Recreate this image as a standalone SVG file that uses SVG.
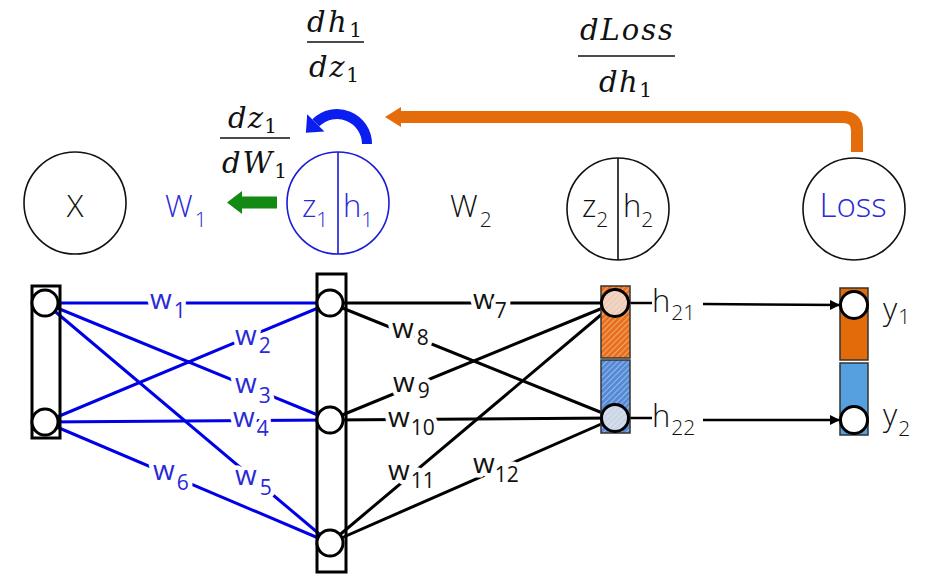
<svg xmlns="http://www.w3.org/2000/svg" width="949" height="584" viewBox="0 0 949 584">
<style>
.sans{font-family:"Open Sans","Noto Sans","Liberation Sans",sans-serif;font-weight:300;}
.math{font-family:"DejaVu Serif","Liberation Serif",serif;font-style:italic;font-size:29px;fill:#111;}
.msub{font-style:normal;font-size:20px;}
.big{font-size:31px;}
.sub{font-size:21px;}
.wl{font-size:28px;font-weight:400;stroke:#fff;stroke-width:9;stroke-linejoin:round;paint-order:stroke;}
.blue{fill:#2a2ad6;}
.blk{fill:#111;}
.node{fill:#fff;stroke:#111;stroke-width:1.6;}
.unit{fill:#fff;stroke:#000;stroke-width:3;}
.layer{fill:none;stroke:#000;stroke-width:3;}
.bl{stroke:#0000e6;stroke-width:3;fill:none;}
.kl{stroke:#000;stroke-width:3;fill:none;}
.fr{stroke:#111;stroke-width:1.5;}
</style>
<defs>
<pattern id="hatchO" width="4" height="4" patternUnits="userSpaceOnUse" patternTransform="rotate(45)">
<rect width="4" height="4" fill="#e8701a"/><line x1="0" y1="0" x2="0" y2="4" stroke="#fff" stroke-width="0.8"/>
</pattern>
<pattern id="hatchB" width="4" height="4" patternUnits="userSpaceOnUse" patternTransform="rotate(45)">
<rect width="4" height="4" fill="#548ad6"/><line x1="0" y1="0" x2="0" y2="4" stroke="#fff" stroke-width="0.8"/>
</pattern>
<pattern id="hatchO2" width="4" height="4" patternUnits="userSpaceOnUse" patternTransform="rotate(45)">
<rect width="4" height="4" fill="#efcdb8"/><line x1="0" y1="0" x2="0" y2="4" stroke="#fbeee6" stroke-width="1"/>
</pattern>
<pattern id="hatchB2" width="4" height="4" patternUnits="userSpaceOnUse" patternTransform="rotate(45)">
<rect width="4" height="4" fill="#cad5e6"/><line x1="0" y1="0" x2="0" y2="4" stroke="#eef2f8" stroke-width="1"/>
</pattern>
<marker id="ah" viewBox="0 0 10 10" refX="10" refY="5" markerWidth="4" markerHeight="4" orient="auto" markerUnits="strokeWidth">
<path d="M0,0 L10,5 L0,10 z" fill="#000"/>
</marker>
</defs>
<rect width="949" height="584" fill="#fff"/>

<!-- top row nodes -->
<g id="node-X">
<circle class="node" cx="75" cy="203" r="51"/>
<text class="sans big blk" x="75" y="217" text-anchor="middle">X</text>
</g>
<g id="label-W1">
<text class="sans big blue" x="165" y="217">W<tspan class="sub" dx="2" dy="10">1</tspan></text>
</g>
<g id="node-z1h1">
<circle cx="338" cy="203" r="51" fill="#fff" stroke="#1a1ad8" stroke-width="1.6"/>
<line x1="338" y1="152" x2="338" y2="254" stroke="#1a1ad8" stroke-width="1.6"/>
<text class="sans big blue" x="302" y="217">z<tspan class="sub" dy="10">1</tspan></text>
<text class="sans big blue" x="343" y="217">h<tspan class="sub" dy="10">1</tspan></text>
</g>
<g id="label-W2">
<text class="sans big blk" x="450" y="217">W<tspan class="sub" dx="2" dy="10">2</tspan></text>
</g>
<g id="node-z2h2">
<circle class="node" cx="618" cy="209" r="51"/>
<line x1="618" y1="158" x2="618" y2="260" stroke="#111" stroke-width="1.6"/>
<text class="sans big blk" x="582" y="217">z<tspan class="sub" dy="10">2</tspan></text>
<text class="sans big blk" x="623" y="217">h<tspan class="sub" dy="10">2</tspan></text>
</g>
<g id="node-Loss">
<circle class="node" cx="854" cy="209" r="51"/>
<text class="sans blue" x="853" y="217" font-size="33" text-anchor="middle">Loss</text>
</g>

<!-- gradient annotations -->
<g id="grad-dh1dz1">
<text class="math" x="307" y="32" textLength="55" lengthAdjust="spacing">dh<tspan class="msub" dy="5">1</tspan></text>
<line class="fr" x1="307" y1="42" x2="364" y2="42"/>
<text class="math" x="309" y="77" textLength="50" lengthAdjust="spacing">dz<tspan class="msub" dy="5">1</tspan></text>
</g>
<g id="grad-dz1dW1">
<text class="math" x="228" y="128" textLength="49" lengthAdjust="spacing">dz<tspan class="msub" dy="5">1</tspan></text>
<line class="fr" x1="220" y1="138" x2="290" y2="138"/>
<text class="math" x="222" y="173" textLength="65" lengthAdjust="spacing">dW<tspan class="msub" dy="5">1</tspan></text>
</g>
<g id="grad-dLossdh1">
<text class="math" x="580" y="40" textLength="93" lengthAdjust="spacing">dLoss</text>
<line class="fr" x1="578" y1="56" x2="675" y2="56"/>
<text class="math" x="599" y="92" textLength="53" lengthAdjust="spacing">dh<tspan class="msub" dy="5">1</tspan></text>
</g>

<!-- backprop arrows -->
<g id="backprop-arrows">
<path d="M857 152 L857 131 Q857 117 843 117 L398 117" fill="none" stroke="#e46c0a" stroke-width="12"/>
<polygon points="385,117 401,107 401,127" fill="#e46c0a"/>
<path d="M367 144 A30 30 0 0 0 315.8 122.8" fill="none" stroke="#0a1ef0" stroke-width="10"/>
<polygon points="324.4,131.4 307.2,114.2 305.9,132.7" fill="#0a1ef0"/>
<polygon points="277,196.5 242,196.5 242,191 227,202.5 242,214 242,208.5 277,208.5" fill="#138a13"/>
</g>

<!-- connectors -->
<g id="connectors">
<line class="bl" x1="45" y1="303" x2="330" y2="303"/>
<line class="bl" x1="45" y1="422" x2="330" y2="303"/>
<line class="bl" x1="45" y1="303" x2="330" y2="420"/>
<line class="bl" x1="45" y1="422" x2="330" y2="420"/>
<line class="bl" x1="45" y1="303" x2="330" y2="543"/>
<line class="bl" x1="45" y1="422" x2="330" y2="543"/>
<line class="kl" x1="330" y1="303" x2="615" y2="303"/>
<line class="kl" x1="330" y1="303" x2="615" y2="418"/>
<line class="kl" x1="330" y1="420" x2="615" y2="303"/>
<line class="kl" x1="330" y1="420" x2="615" y2="418"/>
<line class="kl" x1="330" y1="543" x2="615" y2="303"/>
<line class="kl" x1="330" y1="543" x2="615" y2="418"/>
<line x1="628" y1="303" x2="652" y2="303" stroke="#000" stroke-width="2.5"/>
<line x1="628" y1="418" x2="652" y2="418" stroke="#000" stroke-width="2.5"/>
<line x1="703" y1="304" x2="840" y2="305" stroke="#000" stroke-width="2.5" marker-end="url(#ah)"/>
<line x1="703" y1="420" x2="840" y2="420" stroke="#000" stroke-width="2.5" marker-end="url(#ah)"/>
</g>

<!-- weight labels -->
<g id="weight-labels" class="sans">
<text class="wl blue" x="150" y="309">w<tspan class="sub" dx="2" dy="9">1</tspan></text>
<text class="wl blue" x="235" y="345">w<tspan class="sub" dx="2" dy="8">2</tspan></text>
<text class="wl blue" x="235" y="393">w<tspan class="sub" dx="2" dy="10">3</tspan></text>
<text class="wl blue" x="233" y="427">w<tspan class="sub" dx="2" dy="9">4</tspan></text>
<text class="wl blue" x="235" y="485">w<tspan class="sub" dx="3" dy="10">5</tspan></text>
<text class="wl blue" x="153" y="480">w<tspan class="sub" dx="2" dy="10">6</tspan></text>
<text class="wl blk" x="473" y="309">w<tspan class="sub" dx="0" dy="9">7</tspan></text>
<text class="wl blk" x="392" y="338">w<tspan class="sub" dx="3" dy="7">8</tspan></text>
<text class="wl blk" x="393" y="392">w<tspan class="sub" dx="3" dy="6">9</tspan></text>
<text class="wl blk" x="388" y="427">w<tspan class="sub" dx="1" dy="8">10</tspan></text>
<text class="wl blk" x="388" y="480">w<tspan class="sub" dx="1" dy="8">11</tspan></text>
<text class="wl blk" x="473" y="473">w<tspan class="sub" dx="0" dy="9">12</tspan></text>
</g>

<!-- layers -->
<g id="layer-input">
<rect class="layer" x="32" y="286" width="28" height="152"/>
<circle class="unit" cx="45" cy="303" r="13"/>
<circle class="unit" cx="45" cy="422" r="13"/>
</g>
<g id="layer-hidden1">
<rect class="layer" x="317" y="274" width="29" height="298"/>
<circle class="unit" cx="330" cy="303" r="13"/>
<circle class="unit" cx="330" cy="420" r="13"/>
<circle class="unit" cx="330" cy="543" r="13"/>
</g>
<g id="layer-hidden2">
<rect x="601" y="286" width="29" height="72" fill="url(#hatchO)" stroke="#333" stroke-width="1.5"/>
<rect x="601" y="360" width="29" height="73" fill="url(#hatchB)" stroke="#333" stroke-width="1.5"/>
<circle cx="615" cy="303" r="13.5" fill="url(#hatchO2)" stroke="#000" stroke-width="3"/>
<circle cx="615" cy="418" r="13.5" fill="url(#hatchB2)" stroke="#000" stroke-width="3"/>
<text class="sans big blk" x="652" y="312">h<tspan class="sub" dx="1" dy="8">21</tspan></text>
<text class="sans big blk" x="652" y="427">h<tspan class="sub" dx="1" dy="8">22</tspan></text>
</g>
<g id="layer-output">
<rect x="840" y="288" width="28" height="72" fill="#e36c0a" stroke="#333" stroke-width="1.5"/>
<rect x="840" y="363" width="28" height="72" fill="#56a0df" stroke="#333" stroke-width="1.5"/>
<circle class="unit" cx="854" cy="305" r="13.5"/>
<circle class="unit" cx="854" cy="420" r="13.5"/>
<text class="sans big blk" x="883" y="320">y<tspan class="sub" dx="1" dy="4">1</tspan></text>
<text class="sans big blk" x="883" y="426">y<tspan class="sub" dx="1" dy="10">2</tspan></text>
</g>
</svg>
